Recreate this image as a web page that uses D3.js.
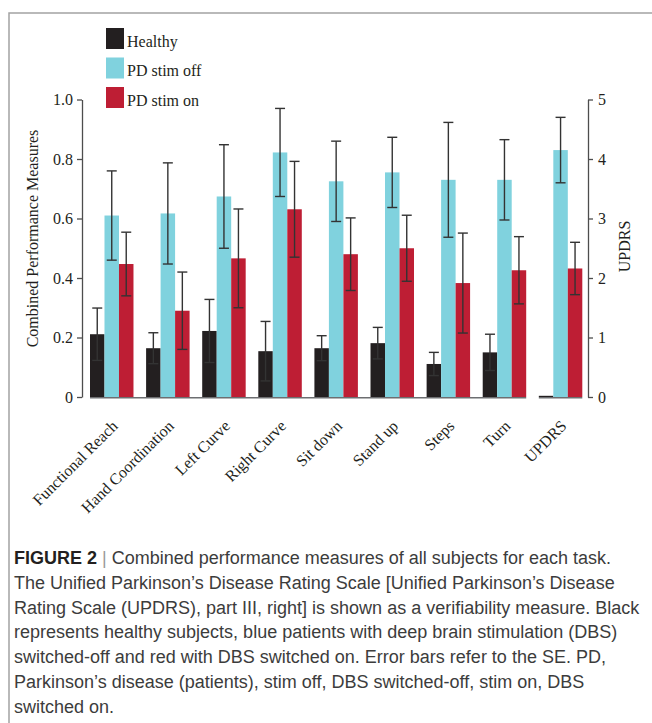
<!DOCTYPE html>
<html>
<head>
<meta charset="utf-8">
<script src="https://cdn.jsdelivr.net/npm/d3@7"></script>
<style>
  html, body { margin: 0; padding: 0; background: #fff; }
  svg { display: block; }
</style>
</head>
<body>
<svg id="fig" width="652" height="723"></svg>
<script>
// Task categories (the last one is read on the right-hand UPDRS axis)
const categories = ["Functional Reach", "Hand Coordination", "Left Curve", "Right Curve",
  "Sit down", "Stand up", "Steps", "Turn", "UPDRS"];
const groups = ["Healthy", "PD stim off", "PD stim on"];

// Group means and standard errors
const healthy      = [0.211, 0.164, 0.222, 0.154, 0.164, 0.181, 0.111, 0.150, 0.02];
const healthyErr   = [0.088, 0.052, 0.106, 0.100, 0.042, 0.053, 0.039, 0.061, 0];
const stimOff      = [0.610, 0.617, 0.674, 0.822, 0.725, 0.755, 0.730, 0.730, 4.15];
const stimOffErr   = [0.150, 0.170, 0.174, 0.148, 0.135, 0.118, 0.193, 0.135, 0.55];
const stimOn       = [0.447, 0.290, 0.466, 0.631, 0.480, 0.500, 0.383, 0.426, 2.16];
const stimOnErr    = [0.107, 0.130, 0.166, 0.161, 0.122, 0.111, 0.168, 0.113, 0.44];

const leftTicks = [0, 0.2, 0.4, 0.6, 0.8, 1.0];
const leftTickLabels = ["0", "0.2", "0.4", "0.6", "0.8", "1.0"];
const rightTicks = [0, 1, 2, 3, 4, 5];
const rightTickLabels = ["0", "1", "2", "3", "4", "5"];

const captionLines = [
  "The Unified Parkinson\u2019s Disease Rating Scale [Unified Parkinson\u2019s Disease",
  "Rating Scale (UPDRS), part III, right] is shown as a verifiability measure. Black",
  "represents healthy subjects, blue patients with deep brain stimulation (DBS)",
  "switched-off and red with DBS switched on. Error bars refer to the SE. PD,",
  "Parkinson\u2019s disease (patients), stim off, DBS switched-off, stim on, DBS",
  "switched on."
];

const colors = { "Healthy": "#231f20", "PD stim off": "#80d2de", "PD stim on": "#be1e34" };
const serif = "'Liberation Serif', 'Times New Roman', serif";
const sans = "'Liberation Sans', Arial, sans-serif";

const svg = d3.select("#fig");

// outer frame
svg.append("rect")
  .attr("x", 9).attr("y", 13).attr("width", 700).attr("height", 760)
  .attr("fill", "none").attr("stroke", "#a3a3a3").attr("stroke-width", 1.5);

// scales
const x = d3.scaleBand().domain(categories).range([90, 582.3])
  .paddingInner(0.225).paddingOuter(0);
const xs = d3.scaleBand().domain(groups).range([0, x.bandwidth()]).padding(0);
const yL = d3.scaleLinear().domain([0, 1]).range([397, 99.5]);
const yR = d3.scaleLinear().domain([0, 5]).range([397, 99.5]);

const rows = categories.map((c, i) => ({
  cat: c,
  y: c === "UPDRS" ? yR : yL,
  vals: [
    { g: "Healthy", v: healthy[i], e: healthyErr[i] },
    { g: "PD stim off", v: stimOff[i], e: stimOffErr[i] },
    { g: "PD stim on", v: stimOn[i], e: stimOnErr[i] }
  ]
}));

const plot = svg.append("g");

const grp = plot.selectAll("g.grp").data(rows).join("g")
  .attr("class", "grp")
  .attr("transform", d => `translate(${x(d.cat)},0)`);

grp.selectAll("rect").data(d => d.vals.map(v => ({ ...v, y: d.y }))).join("rect")
  .attr("x", d => xs(d.g))
  .attr("width", xs.bandwidth())
  .attr("y", d => d.y(d.v))
  .attr("height", d => d.y(0) - d.y(d.v))
  .attr("fill", d => colors[d.g]);

// error bars
const eb = grp.selectAll("g.err").data(d => d.vals.filter(v => v.e > 0).map(v => ({ ...v, y: d.y })))
  .join("g").attr("class", "err")
  .attr("stroke", "#333").attr("stroke-width", 1.4);
eb.append("line")
  .attr("x1", d => xs(d.g) + xs.bandwidth() / 2).attr("x2", d => xs(d.g) + xs.bandwidth() / 2)
  .attr("y1", d => d.y(d.v + d.e)).attr("y2", d => d.y(d.v - d.e));
eb.selectAll("line.cap").data(d => [d.v + d.e, d.v - d.e].map(t => ({ t, d }))).join("line")
  .attr("class", "cap")
  .attr("x1", o => xs(o.d.g) + xs.bandwidth() / 2 - 5)
  .attr("x2", o => xs(o.d.g) + xs.bandwidth() / 2 + 5)
  .attr("y1", o => o.d.y(o.t)).attr("y2", o => o.d.y(o.t));

// baselines: one under the task groups, one under the UPDRS group
const tasks = categories.slice(0, 8);
const baseY = yL(0) + 0.75;
plot.append("line")
  .attr("x1", x(tasks[0])).attr("x2", x(tasks[tasks.length - 1]) + x.bandwidth())
  .attr("y1", baseY).attr("y2", baseY)
  .attr("stroke", "#6d6e71").attr("stroke-width", 1.5);
plot.append("line")
  .attr("x1", x("UPDRS")).attr("x2", x("UPDRS") + x.bandwidth())
  .attr("y1", baseY).attr("y2", baseY)
  .attr("stroke", "#6d6e71").attr("stroke-width", 1.5);

// axes
function styleAxis(g) {
  g.selectAll("path, line").attr("stroke", "#4d4d4d").attr("stroke-width", 1.3);
  g.selectAll("text").attr("font-family", serif).attr("font-size", 16).attr("fill", "#231f20");
}
svg.append("g").attr("transform", "translate(82,0)")
  .call(d3.axisLeft(yL).tickValues(leftTicks).tickFormat((d, i) => leftTickLabels[i])
    .tickSize(5).tickSizeOuter(0).tickPadding(4))
  .call(styleAxis);
svg.append("g").attr("transform", "translate(588,0)")
  .call(d3.axisRight(yR).tickValues(rightTicks).tickFormat((d, i) => rightTickLabels[i])
    .tickSize(5).tickSizeOuter(0).tickPadding(5))
  .call(styleAxis);

// axis titles
svg.append("text")
  .attr("transform", "translate(38,238.5) rotate(-90)")
  .attr("text-anchor", "middle").attr("font-family", serif).attr("font-size", 16)
  .attr("fill", "#231f20").text("Combined Performance Measures");
svg.append("text")
  .attr("transform", "translate(630,246.5) rotate(-90)")
  .attr("text-anchor", "middle").attr("font-family", serif).attr("font-size", 16)
  .attr("fill", "#231f20").text("UPDRS");

// category labels
svg.append("g").selectAll("text").data(categories).join("text")
  .attr("transform", d => `translate(${x(d) + x.bandwidth() / 2 + 7},427) rotate(-45)`)
  .attr("text-anchor", "end").attr("font-family", serif).attr("font-size", 16)
  .attr("fill", "#231f20").text(d => d);

// legend
const leg = svg.append("g").selectAll("g").data(groups).join("g")
  .attr("transform", (d, i) => `translate(106,${28 + i * 29.5})`);
leg.append("rect").attr("width", 18).attr("height", 21).attr("fill", d => colors[d]);
leg.append("text").attr("x", 21).attr("y", 18.5)
  .attr("font-family", serif).attr("font-size", 16).attr("fill", "#231f20").text(d => d);

// caption
const capTop = 564, capStep = 24.8;
const cap = svg.append("g").attr("font-family", sans).attr("font-size", 18).attr("fill", "#3c3c3c");
const first = cap.append("text").attr("x", 14).attr("y", capTop);
first.append("tspan").attr("font-weight", "bold").attr("fill", "#231f20").text("FIGURE 2");
first.append("tspan").attr("fill", "#9a9a9a").text(" | ");
first.append("tspan").text("Combined performance measures of all subjects for each task.");
cap.selectAll("text.line").data(captionLines).join("text")
  .attr("class", "line")
  .attr("x", 14).attr("y", (d, i) => capTop + (i + 1) * capStep)
  .text(d => d);
</script>
</body>
</html>
